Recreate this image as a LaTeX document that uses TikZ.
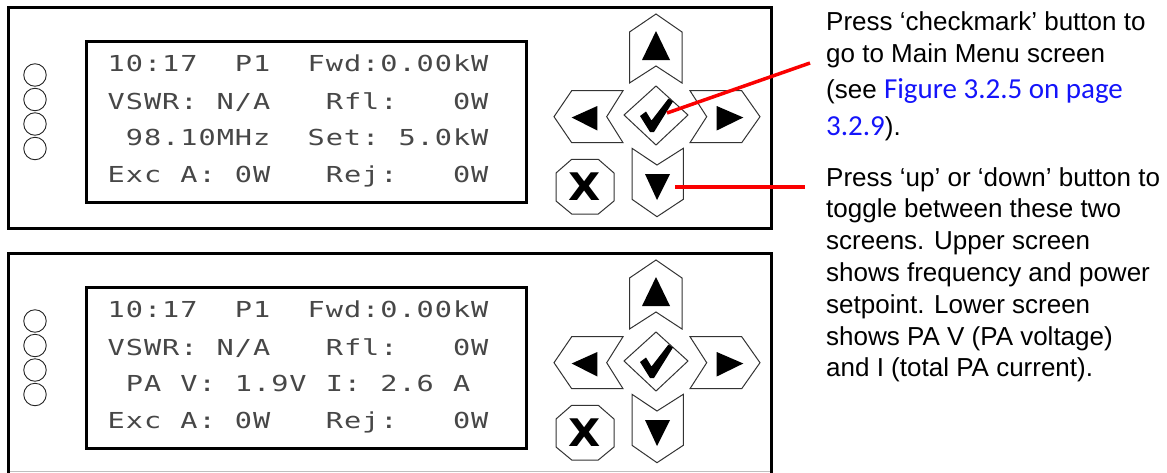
\documentclass[tikz,border=0pt]{standalone}
\usepackage{fontspec}
\setmainfont{Liberation Sans}
\newfontfamily\notefont{Liberation Sans}
\newfontfamily\linkfont{Carlito}
\newfontfamily\xfont{DejaVu Sans}
\newfontfamily\lcdfont[FakeStretch=1.3]{DejaVu Sans Mono}
\definecolor{linkblue}{RGB}{20,20,250}
\definecolor{callred}{RGB}{250,0,0}
\def\lcdend{\lcdend}
\def\lcdscan#1{\ifx#1\lcdend\else\makebox[18.18pt][c]{#1}\expandafter\lcdscan\fi}
\newcommand\lcdrow[1]{\lcdscan#1\lcdend}
\newcommand\linktxt[1]{{\linkfont\fontsize{29}{32}\selectfont\color{linkblue}#1}}
\begin{document}
\begin{tikzpicture}[x=1pt,y=-1pt,
  panel/.style={line width=3pt,draw=black},
  screen/.style={line width=3pt,draw=black},
  led/.style={circle,draw=black!85,line width=0.9pt,minimum size=22.5pt,inner sep=0pt},
  btn/.style={draw=black!80,line width=1pt,fill=white,line join=miter},
  glyph/.style={fill=black,draw=none},
  callout/.style={draw=callred,line width=3.5pt},
  lcd/.style={font=\lcdfont\fontsize{22}{22}\selectfont,text=black!72,anchor=base west,inner sep=0pt},
  note/.style={font=\notefont\fontsize{26}{32}\selectfont,anchor=base west,inner sep=0pt,align=left}]
\useasboundingbox (0,0) rectangle (1167,472);
% panels
\draw[panel] (8,7) rectangle (771,228);
\draw[panel] (8,474) -- (8,253) -- (771,253) -- (771,474);
\draw[black!25,line width=1pt] (9.5,471) -- (769.5,471);
\foreach \dy/\t/\rowc in {0/a/{~98.10MHz~~Set:~5.0kW},246/b/{~PA~V:~1.9V~I:~2.6~A}}{
\begin{scope}[yshift=-\dy pt]
  \draw[screen] (86,41.5) rectangle (526,202.5);
  \node[led] (l1\t) at (35,75) {};
  \node[led] (l2\t) at (35,99.5) {};
  \node[led] (l3\t) at (35,124) {};
  \node[led] (l4\t) at (35,148.5) {};
  \node[lcd] (r1\t) at (107,71) {\lcdrow{10:17~~P1~~Fwd:0.00kW}};
  \node[lcd] (r2\t) at (107,109.5) {\lcdrow{VSWR:~N/A~~~Rfl:~~~0W}};
  \node[lcd] (r3\t) at (107,145.5) {\expandafter\lcdrow\expandafter{\rowc}};
  \node[lcd] (r4\t) at (107,182.5) {\lcdrow{Exc~A:~0W~~~Rej:~~~0W}};
  % up
  \draw[btn] (629.5,32) -- (656,14) -- (682,32) -- (682,83) -- (656,66) -- (629.5,83) -- cycle;
  \fill[glyph] (656,31) -- (670,60) -- (642,60) -- cycle;
  % check
  \draw[btn] (624,115) -- (656,86) -- (688,115) -- (656,145) -- cycle;
  \fill[glyph] (640,116) -- (646,111.5) -- (651.5,120.5) -- (668.5,98.5) -- (673,101.5) -- (654,132) -- (650,132) -- cycle;
  % left
  \draw[btn] (554,116.7) -- (571.7,90.7) -- (623,90.7) -- (606.7,116.7) -- (623,142.7) -- (571.7,142.7) -- cycle;
  \fill[glyph] (571.7,117.5) -- (597.3,106) -- (597.3,130.5) -- cycle;
  % right
  \draw[btn] (760,116.7) -- (741.7,90.7) -- (690,90.7) -- (706.7,116.7) -- (690,142.7) -- (741.7,142.7) -- cycle;
  \fill[glyph] (743.3,117.5) -- (716.7,106) -- (716.7,130.5) -- cycle;
  % down
  \draw[btn] (632,148.3) -- (657,165) -- (683.3,148.3) -- (683.3,199.3) -- (657,216.7) -- (632,199.3) -- cycle;
  \fill[glyph] (645,174) -- (670,174) -- (657,200) -- cycle;
  % cancel
  \draw[btn] (571.7,159.3) -- (598.3,159.3) -- (614,173) -- (614,201) -- (598.3,214) -- (571.7,214) -- (556,201) -- (556,173) -- cycle;
  \node[inner sep=0pt,font=\xfont\bfseries\fontsize{38}{38}\selectfont] (x\t) at (585,187) {\scalebox{1.1}[1]{X}};
\end{scope}}
% callouts
\coordinate (chktip) at (667,113);
\coordinate (dntip) at (675,187);
\node[note] (n1) at (826,135) {Press ‘checkmark’ button to\\go to Main Menu screen\\[3.6pt](see \linktxt{Figure 3.2.5 on page}\\[4.7pt]\linktxt{3.2.9}).};
\node[note,font=\notefont\fontsize{26}{31.8}\selectfont] (n2) at (826,376.8) {Press ‘up’ or ‘down’ button to\\toggle between these two\\screens. Upper screen\\shows frequency and power\\setpoint. Lower screen\\shows PA V (PA voltage)\\and I (total PA current).};
\coordinate (c1end) at (810,63);
\coordinate (c2end) at (805,187);
\draw[callout] (chktip) -- (c1end);
\draw[callout] (dntip) -- (c2end);
\end{tikzpicture}
\end{document}
